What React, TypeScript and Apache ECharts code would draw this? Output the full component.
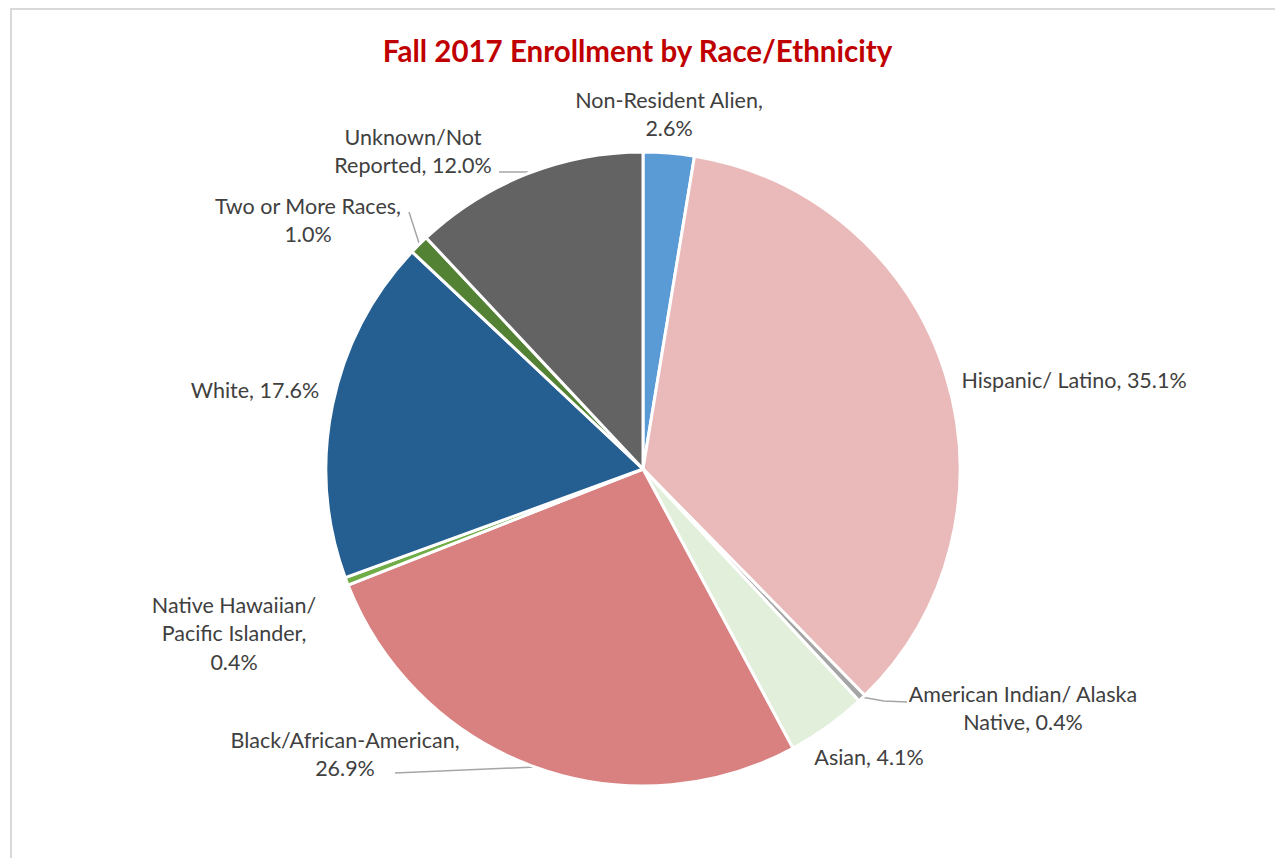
import React, { useEffect, useRef } from "react";
import * as echarts from "echarts";

// ---- Data ----
const categories = [
  "Non-Resident Alien",
  "Hispanic/ Latino",
  "American Indian/ Alaska Native",
  "Asian",
  "Black/African-American",
  "Native Hawaiian/ Pacific Islander",
  "White",
  "Two or More Races",
  "Unknown/Not Reported",
];
const shares = [2.6, 35.1, 0.4, 4.1, 26.9, 0.4, 17.6, 1.0, 12.0];
const colors = [
  "#5B9BD5",
  "#EAB9B9",
  "#A5A5A5",
  "#E2EFDA",
  "#D98080",
  "#70AD47",
  "#255E91",
  "#548235",
  "#636363",
];
// words per wrapped line of each label
const wrapCounts = [[2, 1], [4], [3, 2], [2], [1, 1], [2, 2, 1], [2], [4, 1], [1, 2]];

// ---- Label layout (positions of label centers and leader lines) ----
const labelPos: { x: number; y: number; line?: number[][] }[] = [
  { x: 669, y: 114 },
  { x: 1074, y: 380 },
  { x: 1023, y: 708, line: [[861, 697], [884, 701], [907, 702]] },
  { x: 869, y: 757 },
  { x: 345, y: 754, line: [[535, 767], [395, 773]] },
  { x: 234, y: 633 },
  { x: 255, y: 390 },
  { x: 308, y: 220, line: [[419, 243], [409, 212]] },
  { x: 413, y: 151, line: [[528, 172], [499, 172]] },
];

function wrapLabel(i: number, name: string, value: number): string {
  const words = `${name}, ${value.toFixed(1)}%`.split(" ");
  const lines: string[] = [];
  let k = 0;
  for (const c of wrapCounts[i]) {
    lines.push(words.slice(k, k + c).join(" "));
    k += c;
  }
  return lines.join("\n");
}

export default function App() {
  const ref = useRef<HTMLDivElement>(null);
  useEffect(() => {
    if (!ref.current) return;
    const chart = echarts.init(ref.current, undefined, { renderer: "svg" });
    const font = "Lato, 'Open Sans', sans-serif";
    chart.setOption({
      animation: false,
      backgroundColor: "#FFFFFF",
      title: {
        text: "Fall 2017 Enrollment by Race/Ethnicity",
        left: "center",
        top: 30,
        textStyle: {
          color: "#C00000",
          fontSize: 29.5,
          fontWeight: "bold",
          fontFamily: font,
        },
      },
      graphic: [
        {
          type: "rect",
          shape: { x: 11, y: 9, width: 1400, height: 1000 },
          style: { fill: "none", stroke: "#D9D9D9", lineWidth: 2 },
          silent: true,
        },
      ],
      series: [
        {
          type: "pie",
          center: [643, 469],
          radius: 317,
          startAngle: 90,
          clockwise: true,
          avoidLabelOverlap: false,
          itemStyle: { borderColor: "#FFFFFF", borderWidth: 3 },
          label: {
            show: true,
            position: "outside",
            color: "#404040",
            fontSize: 21.5,
            lineHeight: 28.5,
            fontFamily: font,
            align: "center",
            formatter: (p: any) => wrapLabel(p.dataIndex, p.name, p.value),
          },
          labelLine: {
            show: true,
            lineStyle: { color: "#A6A6A6", width: 1.5 },
          },
          labelLayout: (params: any) => {
            const L = labelPos[params.dataIndex];
            const out: any = {
              x: L.x,
              y: L.y,
              align: "center",
              verticalAlign: "middle",
            };
            if (L.line) out.labelLinePoints = L.line;
            return out;
          },
          emphasis: { disabled: true },
          data: categories.map((name, i) => ({
            name,
            value: shares[i],
            itemStyle: { color: colors[i] },
            labelLine: { show: !!labelPos[i].line },
          })),
        },
      ],
    });
    return () => chart.dispose();
  }, []);
  return (
    <div
      ref={ref}
      style={{ position: "absolute", left: 0, top: 0, width: 1275, height: 858 }}
    />
  );
}
